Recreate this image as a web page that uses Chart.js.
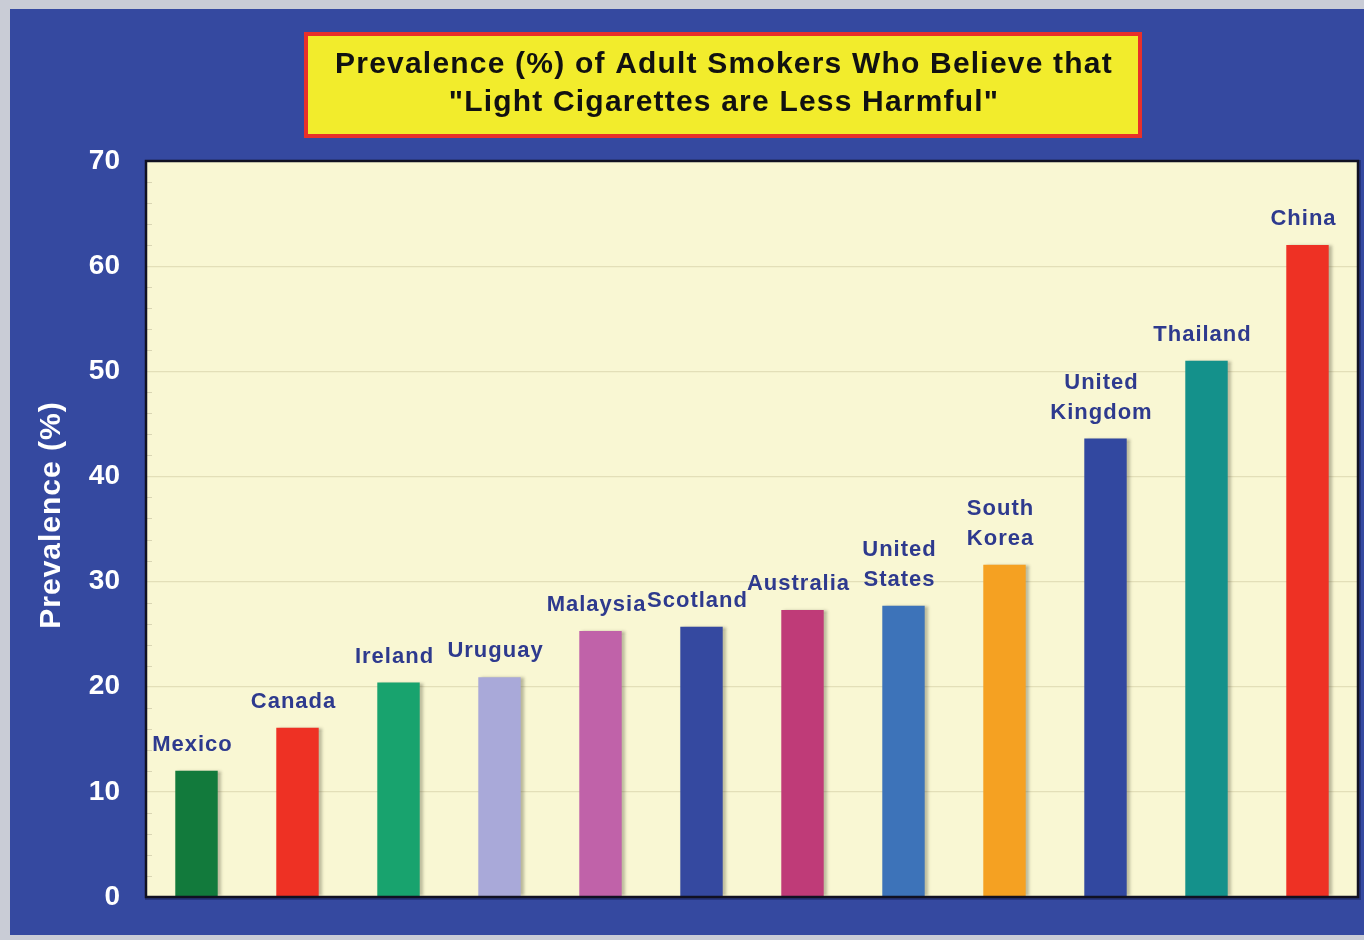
<!DOCTYPE html>
<html>
<head>
<meta charset="utf-8">
<script src="https://cdn.jsdelivr.net/npm/chart.js@4.4.1/dist/chart.umd.min.js"></script>
<style>
  html, body { margin: 0; padding: 0; background: #c9ccd6; }
  #wrap { position: relative; width: 1364px; height: 940px; }
  canvas { display: block; }
</style>
</head>
<body>
<div id="wrap"><canvas id="c" width="1364" height="940"></canvas></div>
<script>
// ---- data ----
const categories = [
  ["Mexico"], ["Canada"], ["Ireland"], ["Uruguay"], ["Malaysia"], ["Scotland"],
  ["Australia"], ["United", "States"], ["South", "Korea"], ["United", "Kingdom"],
  ["Thailand"], ["China"]
];
const prevalence = [12.0, 16.1, 20.4, 20.9, 25.3, 25.7, 27.3, 27.7, 31.6, 43.6, 51.0, 62.0];
const barColors = [
  "#127a3c", "#ee3124", "#18a36e", "#a9a9d9", "#c062a9", "#3549a0",
  "#bf3b78", "#3d73b9", "#f5a122", "#3248a0", "#14918b", "#ee3124"
];
const yTicks = [0, 10, 20, 30, 40, 50, 60, 70];
const titleLines = [
  "Prevalence (%) of Adult Smokers Who Believe that",
  "\"Light Cigarettes are Less Harmful\""
];
const yTitle = "Prevalence (%)";

const FONT = "'Liberation Sans', Arial, sans-serif";

const decor = {
  id: "decor",
  beforeDraw(chart) {
    const ctx = chart.ctx;
    const a = chart.chartArea;
    ctx.save();
    ctx.fillStyle = "#c9ccd6";
    ctx.fillRect(0, 0, chart.width, chart.height);
    ctx.fillStyle = "#3549a0";
    ctx.fillRect(10, 9, chart.width - 10, 926);
    // plot shadow
    ctx.fillStyle = "rgba(10,15,60,0.35)";
    ctx.fillRect(a.left - 1, a.top - 1, a.right - a.left + 4, a.bottom - a.top + 4);
    ctx.fillStyle = "#f9f7d3";
    ctx.fillRect(a.left, a.top, a.right - a.left, a.bottom - a.top);
    ctx.restore();
  },
  beforeDatasetsDraw(chart) {
    const ctx = chart.ctx;
    ctx.save();
    ctx.shadowColor = "rgba(60,60,40,0.35)";
    ctx.shadowOffsetX = 3;
    ctx.shadowOffsetY = 0;
    ctx.shadowBlur = 3;
  },
  afterDatasetsDraw(chart) {
    const ctx = chart.ctx;
    ctx.restore();
    const a = chart.chartArea;
    const ys = chart.scales.y;
    ctx.save();
    // minor ticks
    ctx.strokeStyle = "#d9d5b3";
    ctx.lineWidth = 1;
    for (let v = 2; v < 70; v += 2) {
      if (v % 10 === 0) continue;
      const py = Math.round(ys.getPixelForValue(v)) + 0.5;
      ctx.beginPath();
      ctx.moveTo(a.left, py);
      ctx.lineTo(a.left + 6, py);
      ctx.stroke();
    }
    // border
    ctx.strokeStyle = "#111122";
    ctx.lineWidth = 2.5;
    ctx.strokeRect(a.left, a.top, a.right - a.left, a.bottom - a.top);
    // bar labels
    const meta = chart.getDatasetMeta(0);
    ctx.fillStyle = "#2e3a8e";
    ctx.font = "bold 22px " + FONT;
    ctx.letterSpacing = "1px";
    ctx.textAlign = "center";
    ctx.textBaseline = "middle";
    meta.data.forEach((bar, i) => {
      const lines = chart.data.labels[i];
      const lh = 30;
      const baseY = bar.y - 26;
      for (let k = 0; k < lines.length; k++) {
        const yy = baseY - (lines.length - 1 - k) * lh;
        ctx.fillText(lines[k], bar.x - 4, yy);
      }
    });
    ctx.restore();
  },
  afterDraw(chart) {
    const ctx = chart.ctx;
    const a = chart.chartArea;
    ctx.save();
    // axis title
    ctx.translate(52, 515);
    ctx.rotate(-Math.PI / 2);
    ctx.fillStyle = "#ffffff";
    ctx.font = "bold 30px " + FONT;
    ctx.letterSpacing = "1px";
    ctx.textAlign = "center";
    ctx.textBaseline = "middle";
    ctx.fillText(yTitle, 0, 0);
    ctx.restore();

    ctx.save();
    ctx.fillStyle = "#f2ec2c";
    ctx.fillRect(306, 34, 834, 102);
    ctx.strokeStyle = "#e8302a";
    ctx.lineWidth = 4;
    ctx.strokeRect(306, 34, 834, 102);
    ctx.fillStyle = "#111111";
    ctx.font = "bold 30px " + FONT;
    ctx.letterSpacing = "1.2px";
    ctx.textAlign = "center";
    ctx.textBaseline = "middle";
    ctx.fillText(titleLines[0], 724, 65);
    ctx.fillText(titleLines[1], 724, 103);
    ctx.restore();
  }
};

new Chart(document.getElementById("c"), {
  type: "bar",
  data: {
    labels: categories,
    datasets: [{
      data: prevalence,
      backgroundColor: barColors,
      borderWidth: 0,
      categoryPercentage: 1.0,
      barPercentage: 0.42
    }]
  },
  options: {
    responsive: false,
    animation: false,
    devicePixelRatio: 1,
    layout: { padding: { left: 0, top: 161, right: 6, bottom: 43 } },
    plugins: { legend: { display: false }, tooltip: { enabled: false }, title: { display: false } },
    scales: {
      x: { display: false, offset: true },
      y: {
        min: 0, max: 70,
        afterFit(scale) { scale.width = 146; },
        afterBuildTicks(scale) { scale.ticks = yTicks.map(v => ({ value: v })); },
        ticks: { color: "#ffffff", font: { family: FONT, size: 28, weight: "bold" }, padding: 26 },
        grid: { color: "#e3dfb8", lineWidth: 1.2, drawTicks: false },
        border: { display: false },
        title: { display: false }
      }
    }
  },
  plugins: [decor]
});
</script>
</body>
</html>
